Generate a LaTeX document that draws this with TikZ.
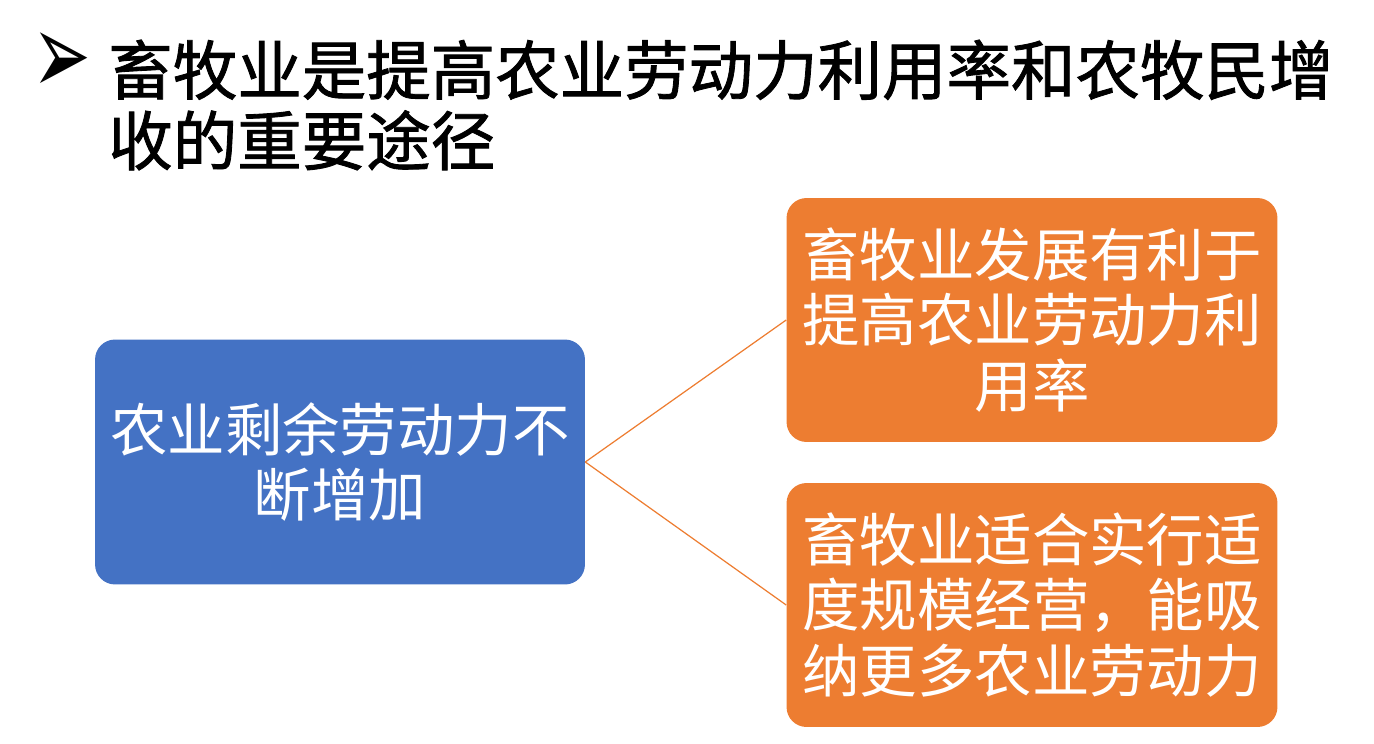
\documentclass[tikz,border=0pt]{standalone}
\usepackage{fontspec}
\setmainfont{Noto Sans CJK SC}
\newfontfamily\cjk{Noto Sans CJK SC}
\newfontfamily\cjktitulo{Noto Sans CJK SC}[FakeBold=1.3]
\newfontfamily\dingfont{DejaVu Sans}
\definecolor{kblue}{HTML}{4472C4}
\definecolor{korange}{HTML}{ED7D31}
\begin{document}
\begin{tikzpicture}[x=0.02cm, y=-0.02cm,
    caixa/.style={rectangle, rounded corners=0.4cm, text=white, align=center, inner sep=0pt,
      font=\cjk\fontsize{32.7}{37.5}\selectfont},
    liga/.style={draw=korange, line width=0.7pt}]
\useasboundingbox (0,0) rectangle (1374,744);
% titulo
\node[inner sep=0pt, font=\dingfont\fontsize{30}{30}\selectfont] (seta) at (62,64) {\scalebox{1.33}[2.2]{➢}};
\node[anchor=west, align=left, inner sep=0pt, font=\cjktitulo\fontsize{36.7}{40.2}\selectfont] (titulo) at (108,105)
  {畜牧业是提高农业劳动力利用率和农牧民增\\收的重要途径};
% caixas
\node[caixa, fill=kblue, minimum width=9.8cm, minimum height=4.9cm] (sobra) at (340,462) {农业剩余劳动力不\\断增加};
\node[caixa, fill=korange, minimum width=9.82cm, minimum height=4.88cm] (prod) at (1032,320) {畜牧业发展有利于\\提高农业劳动力利\\用率};
\node[caixa, fill=korange, minimum width=9.82cm, minimum height=4.88cm] (escala) at (1032,605) {畜牧业适合实行适\\度规模经营，能吸\\纳更多农业劳动力};
\draw[liga] (sobra.east) -- (prod.west);
\draw[liga] (sobra.east) -- (escala.west);
\end{tikzpicture}
\end{document}
